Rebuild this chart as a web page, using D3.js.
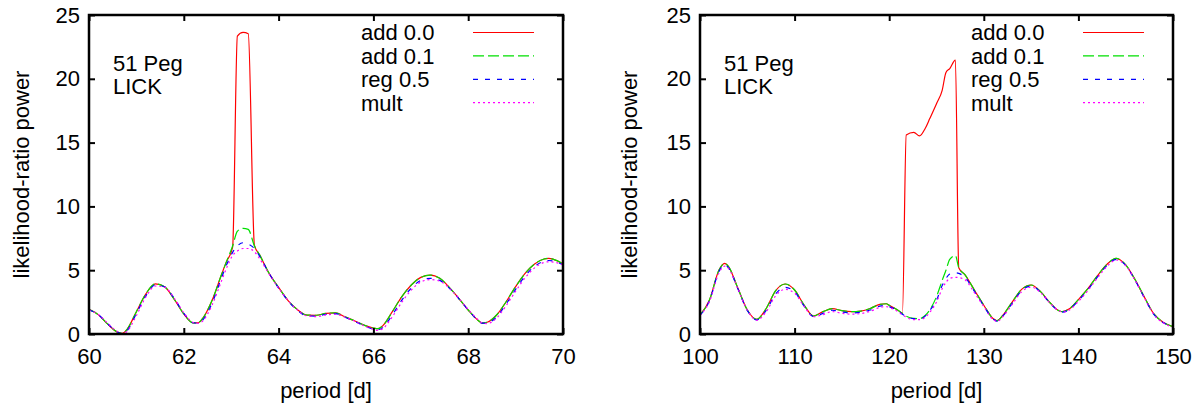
<!DOCTYPE html>
<html>
<head>
<meta charset="utf-8">
<script src="https://cdn.jsdelivr.net/npm/d3@7"></script>
<style>
  body { margin: 0; background: #fff; }
  text { font-family: "Liberation Sans", Arial, Helvetica, sans-serif; fill: #000; }
</style>
</head>
<body>
<svg id="chart" width="1198" height="404"></svg>
<script>
// ---- Left panel: period grid 60–70 d ----
const leftPeriods = [60.0, 60.2, 60.4, 60.6, 60.7, 60.8, 61.0, 61.2, 61.4, 61.6, 61.8, 62.0, 62.2, 62.3, 62.4, 62.6, 62.8, 62.9,
  63.03, 63.13, 63.25, 63.36, 63.49, 63.6, 63.8, 64.0, 64.2, 64.4, 64.6, 64.8, 65.0, 65.2, 65.4, 65.6, 65.8, 66.0, 66.1, 66.2,
  66.4, 66.6, 66.8, 67.0, 67.2, 67.4, 67.6, 67.8, 68.0, 68.2, 68.3, 68.4, 68.6, 68.8, 69.0, 69.2, 69.4, 69.6, 69.7, 69.8, 70.0];
const leftAdd00 = [1.93, 1.5, 0.75, 0.15, 0.05, 0.35, 1.75, 3.15, 3.93, 3.68, 2.72, 1.57, 0.87, 0.88, 1.23, 2.66, 4.7, 5.67,
  6.8, 23.35, 23.64, 23.53, 6.95, 6.2, 4.75, 3.65, 2.62, 1.9, 1.48, 1.47, 1.62, 1.66, 1.35, 1.04, 0.7, 0.47, 0.42, 0.66,
  1.75, 2.93, 3.84, 4.44, 4.62, 4.36, 3.66, 2.8, 1.88, 1.1, 0.86, 0.92, 1.49, 2.53, 3.71, 4.75, 5.49, 5.88, 5.93, 5.85, 5.5];
const leftAdd01 = [1.93, 1.5, 0.75, 0.15, 0.05, 0.35, 1.75, 3.15, 3.93, 3.68, 2.72, 1.57, 0.87, 0.88, 1.23, 2.66, 4.7, 5.67,
  6.9, 8.05, 8.28, 8.2, 6.9, 6.2, 4.75, 3.65, 2.62, 1.9, 1.48, 1.47, 1.62, 1.66, 1.35, 1.04, 0.7, 0.47, 0.42, 0.66,
  1.75, 2.93, 3.84, 4.44, 4.62, 4.36, 3.66, 2.8, 1.88, 1.1, 0.86, 0.92, 1.49, 2.53, 3.71, 4.75, 5.49, 5.88, 5.93, 5.85, 5.5];
const leftReg05 = [1.9, 1.5, 0.78, 0.15, 0.02, 0.25, 1.6, 3.0, 3.85, 3.68, 2.78, 1.62, 0.88, 0.85, 1.1, 2.45, 4.45, 5.4,
  6.4, 6.9, 7.15, 7.05, 6.7, 6.1, 4.75, 3.6, 2.6, 1.85, 1.42, 1.4, 1.55, 1.6, 1.32, 1.0, 0.65, 0.38, 0.33, 0.5,
  1.5, 2.65, 3.6, 4.2, 4.36, 4.2, 3.6, 2.78, 1.88, 1.1, 0.85, 0.86, 1.35, 2.35, 3.5, 4.55, 5.3, 5.7, 5.76, 5.72, 5.42];
const leftMult = [1.9, 1.52, 0.82, 0.18, 0.02, 0.2, 1.45, 2.9, 3.76, 3.66, 2.8, 1.66, 0.9, 0.84, 1.02, 2.3, 4.2, 5.15,
  6.15, 6.5, 6.7, 6.7, 6.45, 5.9, 4.7, 3.6, 2.62, 1.88, 1.42, 1.36, 1.5, 1.55, 1.32, 1.02, 0.65, 0.36, 0.28, 0.42,
  1.35, 2.5, 3.45, 4.08, 4.26, 4.14, 3.6, 2.8, 1.92, 1.15, 0.86, 0.82, 1.25, 2.22, 3.35, 4.4, 5.18, 5.6, 5.66, 5.64, 5.4];

// ---- Right panel: period grid 100–150 d ----
const rightPeriods = [100, 101, 102, 102.6, 103, 104, 105, 106, 107, 108, 109, 110, 111, 112, 113, 114, 115, 116, 117, 118, 119, 119.7,
  120, 121, 121.4, 121.8, 122.6, 123.2, 123.8, 124.3, 125, 125.6, 126, 126.4, 127, 127.35, 128, 129, 130, 131, 131.4, 132, 133,
  134, 135, 136, 137, 138, 138.3, 139, 140, 141, 142, 143, 144, 145, 146, 147, 148, 149, 150];
const rightAdd00 = [1.49, 2.66, 5.0, 5.54, 5.3, 3.6, 1.88, 1.15, 2.0, 3.4, 3.92, 3.45, 2.27, 1.41, 1.75, 1.99, 1.83, 1.75, 1.8, 2.0, 2.32, 2.37,
  2.25, 1.83, 1.65, 15.6, 15.8, 15.52, 16.1, 16.9, 18.05, 19.1, 20.5, 20.8, 21.47, 5.2, 4.65, 3.45, 2.25, 1.2, 1.04, 1.45, 2.5,
  3.5, 3.84, 3.32, 2.45, 1.8, 1.75, 1.95, 2.7, 3.55, 4.55, 5.45, 5.93, 5.41, 4.25, 2.85, 1.55, 0.9, 0.57];
const rightAdd01 = [1.49, 2.66, 5.0, 5.54, 5.3, 3.6, 1.88, 1.15, 2.0, 3.4, 3.92, 3.45, 2.27, 1.41, 1.75, 1.99, 1.83, 1.75, 1.8, 2.0, 2.32, 2.37,
  2.25, 1.83, 1.6, 1.4, 1.22, 1.2, 1.45, 1.9, 2.93, 4.2, 5.0, 5.85, 6.15, 5.2, 4.65, 3.45, 2.25, 1.2, 1.04, 1.45, 2.5,
  3.5, 3.84, 3.32, 2.45, 1.8, 1.75, 1.95, 2.7, 3.55, 4.55, 5.45, 5.93, 5.41, 4.25, 2.85, 1.55, 0.9, 0.57];
const rightReg05 = [1.45, 2.6, 4.9, 5.42, 5.2, 3.55, 1.85, 1.1, 1.85, 3.15, 3.65, 3.3, 2.2, 1.38, 1.62, 1.86, 1.72, 1.65, 1.7, 1.88, 2.18, 2.25,
  2.15, 1.78, 1.55, 1.38, 1.2, 1.18, 1.4, 1.85, 2.65, 3.8, 4.35, 4.7, 4.8, 4.75, 4.45, 3.35, 2.2, 1.15, 1.0, 1.4, 2.4,
  3.4, 3.76, 3.28, 2.42, 1.78, 1.72, 1.9, 2.62, 3.48, 4.45, 5.35, 5.85, 5.38, 4.2, 2.8, 1.52, 0.88, 0.55];
const rightMult = [1.45, 2.55, 4.78, 5.32, 5.15, 3.55, 1.88, 1.08, 1.75, 3.0, 3.5, 3.2, 2.18, 1.35, 1.52, 1.76, 1.62, 1.55, 1.6, 1.78, 2.08, 2.15,
  2.08, 1.72, 1.5, 1.32, 1.12, 1.12, 1.3, 1.7, 2.5, 3.55, 4.05, 4.35, 4.44, 4.42, 4.25, 3.25, 2.15, 1.12, 0.98, 1.35, 2.32,
  3.3, 3.68, 3.25, 2.42, 1.8, 1.72, 1.86, 2.55, 3.4, 4.38, 5.28, 5.8, 5.36, 4.2, 2.8, 1.5, 0.86, 0.53];

// ---- Shared labels and ticks ----
const seriesNames = ["add 0.0", "add 0.1", "reg 0.5", "mult"];
const leftTicks = [60, 62, 64, 66, 68, 70];
const rightTicks = [100, 110, 120, 130, 140, 150];
const powerTicks = [0, 5, 10, 15, 20, 25];
const starLabel = ["51 Peg", "LICK"];

const seriesStyle = [
  { color: "#ff0000", dash: null },
  { color: "#00e000", dash: "11,4" },
  { color: "#0000ff", dash: "5,7" },
  { color: "#ff00ff", dash: "2,3" }
];

const svg = d3.select("#chart");
const FONT = 22;
const plotTop = 15, plotBottom = 334;

function drawPanel(opts) {
  const { x0, x1, domain, ticks, periods, series, clipId, yLabelX } = opts;
  const x = d3.scaleLinear().domain(domain).range([x0, x1]);
  const y = d3.scaleLinear().domain([0, 25]).range([plotBottom, plotTop]);
  const g = svg.append("g");

  g.append("clipPath").attr("id", clipId)
    .append("rect").attr("x", x0).attr("y", plotTop).attr("width", x1 - x0).attr("height", plotBottom - plotTop);

  // curves
  const line = d3.line()
    .x((d, i) => x(periods[i]))
    .y(d => y(d))
    .curve(d3.curveMonotoneX);
  const curves = g.append("g").attr("clip-path", `url(#${clipId})`);
  series.forEach((vals, k) => {
    curves.append("path")
      .attr("d", line(vals))
      .attr("fill", "none")
      .attr("stroke", seriesStyle[k].color)
      .attr("stroke-width", 1.2)
      .attr("stroke-dasharray", seriesStyle[k].dash);
  });

  // axes with inward ticks on every side
  const tick = 6;
  g.append("g").attr("transform", `translate(0,${plotBottom})`)
    .call(d3.axisBottom(x).tickValues(ticks).tickSize(-tick).tickPadding(14).tickFormat(d3.format("d")));
  g.append("g").attr("transform", `translate(0,${plotTop})`)
    .call(d3.axisTop(x).tickValues(ticks).tickSize(-tick).tickFormat(""));
  g.append("g").attr("transform", `translate(${x0},0)`)
    .call(d3.axisLeft(y).tickValues(powerTicks).tickSize(-tick).tickPadding(9).tickFormat(d3.format("d")));
  g.append("g").attr("transform", `translate(${x1},0)`)
    .call(d3.axisRight(y).tickValues(powerTicks).tickSize(-tick).tickFormat(""));
  g.selectAll(".domain").remove();
  g.selectAll(".tick line").attr("stroke", "#000").attr("stroke-width", 2);
  g.selectAll(".tick text").attr("font-size", FONT).attr("font-family", null);

  g.append("rect")
    .attr("x", x0).attr("y", plotTop).attr("width", x1 - x0).attr("height", plotBottom - plotTop)
    .attr("fill", "none").attr("stroke", "#000").attr("stroke-width", 2.5);

  // axis titles
  g.append("text").attr("x", (x0 + x1) / 2).attr("y", 398)
    .attr("text-anchor", "middle").attr("font-size", FONT).text("period [d]");
  g.append("text").attr("transform", `translate(${yLabelX},${(plotTop + plotBottom) / 2}) rotate(-90)`)
    .attr("text-anchor", "middle").attr("font-size", FONT).text("likelihood-ratio power");

  // star / instrument label
  starLabel.forEach((s, i) => {
    g.append("text").attr("x", x0 + 24).attr("y", 71 + i * 22.5).attr("font-size", FONT).text(s);
  });

  // legend
  seriesNames.forEach((name, i) => {
    g.append("text").attr("x", x1 - 202).attr("y", 40 + i * 23.5).attr("font-size", FONT).text(name);
    g.append("line")
      .attr("x1", x1 - 90).attr("x2", x1 - 29)
      .attr("y1", 32.5 + i * 23.4).attr("y2", 32.5 + i * 23.4)
      .attr("stroke", seriesStyle[i].color).attr("stroke-width", 1.2)
      .attr("stroke-dasharray", seriesStyle[i].dash);
  });
}

drawPanel({
  x0: 89, x1: 563, domain: [60, 70], ticks: leftTicks, periods: leftPeriods,
  series: [leftAdd00, leftAdd01, leftReg05, leftMult], clipId: "clipL", yLabelX: 29
});
drawPanel({
  x0: 700, x1: 1173, domain: [100, 150], ticks: rightTicks, periods: rightPeriods,
  series: [rightAdd00, rightAdd01, rightReg05, rightMult], clipId: "clipR", yLabelX: 637
});
</script>
</body>
</html>
